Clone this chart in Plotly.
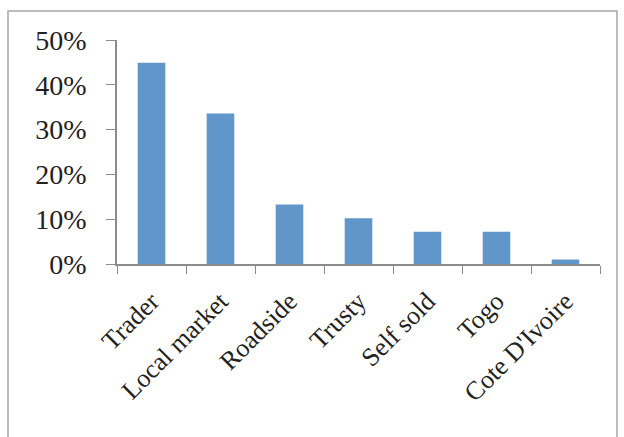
import plotly.graph_objects as go

categories = ["Trader", "Local market", "Roadside", "Trusty", "Self sold", "Togo", "Cote D'Ivoire"]
values = [0.449, 0.336, 0.133, 0.102, 0.072, 0.072, 0.010]

L, R, T, B = 117, 600, 40, 264
W, H = 624, 437
pw, ph = R - L, B - T

fig = go.Figure(go.Bar(x=categories, y=values, marker=dict(color="#6096CA", line=dict(width=0))))

fig.update_layout(
    width=W, height=H,
    margin=dict(l=L, r=W - R, t=T, b=H - B, pad=0),
    paper_bgcolor="white", plot_bgcolor="white",
    bargap=0.6,
    showlegend=False,
    font=dict(family="Liberation Serif", color="#222222"),
    shapes=[dict(type="rect", xref="paper", yref="paper",
                 x0=(8 - L) / pw, x1=(617 - L) / pw,
                 y0=(B - 445) / ph, y1=(B - 11) / ph,
                 line=dict(color="#A6A6A6", width=1.5), fillcolor="rgba(0,0,0,0)", layer="below")],
)
fig.update_yaxes(range=[0, 0.5], dtick=0.1, tickformat=".0%", showgrid=False, zeroline=False,
                 showline=True, linecolor="#8C8C8C", linewidth=1.5, ticks="outside", ticklen=9,
                 tickcolor="#8C8C8C", ticklabelstandoff=14,
                 tickfont=dict(size=28, family="Liberation Serif", color="#222222"))
fig.update_xaxes(showline=True, linecolor="#8C8C8C", linewidth=1.5, ticks="outside", ticklen=8,
                 tickcolor="#8C8C8C", tickson="boundaries", tickangle=-45, showgrid=False,
                 ticklabelstandoff=10,
                 tickfont=dict(size=26, family="Liberation Serif", color="#222222"))

fig.write_html("out.html")
